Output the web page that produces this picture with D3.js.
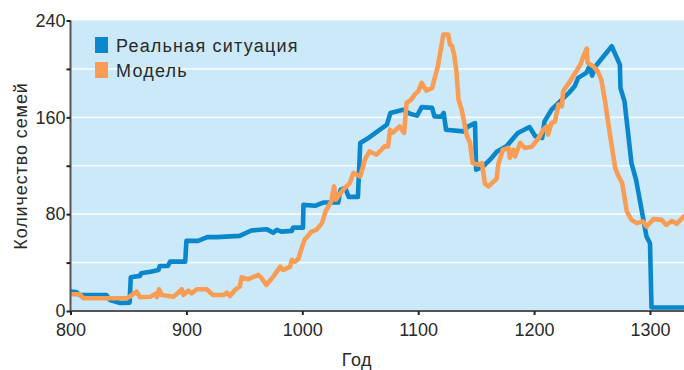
<!DOCTYPE html>
<html>
<head>
<meta charset="utf-8">
<script src="https://cdn.jsdelivr.net/npm/d3@7"></script>
<style>
  html, body { margin: 0; padding: 0; background: #fff; }
  svg { display: block; font-family: "Liberation Sans", Arial, sans-serif; }
</style>
</head>
<body>
<svg id="chart" width="684" height="370"></svg>
<script>
// Real observed number of families
const realYears = [800, 805, 808, 831, 834, 843, 851, 852, 860, 861, 869, 876, 877, 884, 886, 899, 900, 910, 918, 926, 946, 956, 969, 975, 978, 982, 991, 992, 1000.6, 1001, 1011, 1018, 1031, 1033, 1037, 1040, 1048, 1050, 1056, 1064, 1073, 1076, 1087, 1093, 1099, 1103, 1112, 1114, 1120, 1122, 1124, 1139, 1143, 1149, 1150, 1156, 1162, 1168, 1176, 1186, 1196, 1201, 1207, 1209, 1215, 1224, 1230, 1235, 1238, 1245, 1248, 1250, 1253, 1267, 1274, 1274.5, 1278, 1284, 1288, 1297, 1300, 1301.3, 1330];
const realValues = [16, 15.7, 13.2, 13.2, 9.1, 6.6, 6.9, 27.9, 29, 31.2, 32.5, 33.9, 37.2, 37.2, 40.8, 40.8, 57.9, 57.9, 61, 61, 62.1, 66.5, 67.6, 64.8, 67, 65.6, 66.2, 68.9, 68.9, 87.7, 86.9, 89.6, 89.6, 100.1, 101.8, 94.3, 94.3, 138.8, 142.3, 147.7, 153.9, 163.6, 166.3, 163, 161.4, 168.4, 167.8, 160.8, 160.6, 163.6, 149.8, 148.4, 152.3, 155.2, 116.7, 119.4, 125, 131.8, 136, 147.1, 152, 144.3, 142.9, 156.7, 166.3, 174.6, 180.2, 185.6, 192.6, 196.7, 202.5, 194.5, 202.2, 218.7, 203.6, 184.3, 173.2, 122.2, 108.4, 61.5, 56, 2.9, 2.9];

// Model output
const modelYears = [800, 808, 811, 848.5, 851, 857, 860, 869, 873, 874.6, 876.4, 878.7, 888.7, 893, 896, 897.3, 901.6, 904.6, 909, 917.5, 923, 932, 935, 937.6, 942, 946, 947.7, 953, 962, 965, 969, 975, 981, 983.6, 989.4, 991, 993.7, 996.5, 999.5, 1002, 1008, 1012, 1017, 1020, 1025, 1027.4, 1029, 1035, 1041, 1044, 1050, 1054, 1058, 1064, 1071, 1074, 1075.7, 1078, 1084, 1087.8, 1090, 1094, 1097, 1100, 1103, 1107, 1112, 1117, 1121.7, 1126, 1127.4, 1129, 1131, 1133, 1134.8, 1137.5, 1142, 1144.7, 1147, 1152, 1155, 1157.6, 1160.5, 1167.7, 1169, 1173, 1178, 1179, 1182, 1183.5, 1188, 1192, 1198, 1204, 1208, 1211, 1212, 1215, 1218, 1221, 1224, 1225, 1231, 1240, 1242, 1245.4, 1246.2, 1251, 1255, 1258, 1261, 1265.5, 1270, 1273, 1276, 1280, 1284, 1288.5, 1294, 1297, 1303, 1310, 1314, 1319, 1323, 1330];
const modelValues = [13.8, 13.8, 10.5, 10.5, 11.8, 16, 11.3, 11.8, 14.1, 11.6, 18, 13.2, 11.8, 15.1, 18, 13.2, 16.8, 14.6, 18, 18, 13.2, 13.2, 15.1, 12.4, 17.4, 20.1, 27.9, 26.2, 29.8, 27.1, 21.5, 28.4, 36.7, 33.9, 36.4, 42.2, 40.8, 42.8, 52.1, 58.8, 65.6, 67, 72.6, 82.2, 90.5, 102.9, 91.9, 100.1, 105.7, 114, 111.2, 125, 131.8, 129.1, 136, 136, 149.8, 147.3, 152.5, 147.1, 171.9, 174.6, 178.8, 181.5, 188.4, 182.1, 184.3, 202.2, 228.4, 228.4, 220.1, 219.3, 211.9, 197.8, 174.6, 166.3, 144.8, 139, 122.2, 120.8, 122.2, 105.1, 102.9, 109.2, 120.8, 133.2, 134.7, 126.6, 133.2, 127.7, 138.8, 134.7, 135.7, 142.9, 149.8, 152.5, 145.7, 155.3, 156.7, 170.5, 169.1, 181.5, 189.8, 203.6, 209.1, 216.8, 205, 202.2, 198, 191.2, 174.6, 145.7, 118.1, 111.1, 105.7, 82.2, 75.3, 72.6, 73.9, 69.8, 75.9, 75.3, 71.2, 74.5, 72, 79];

const xTicks = [800, 900, 1000, 1100, 1200, 1300];
const yTicks = [0, 40, 80, 120, 160, 200, 240];
const yLabelTicks = [0, 80, 160, 240];
const legendLabels = ["Реальная ситуация", "Модель"];
const seriesColors = ["#0a87ca", "#f99d55"];

const svg = d3.select("#chart");
const margin = { left: 70.5, top: 20.5, right: 0, bottom: 59 };
const W = 684, H = 370;
const plotW = W - margin.left - margin.right;
const plotH = H - margin.top - margin.bottom;
const textColor = "#2a2a2a";

// 800..1300 spans 580px; right edge lands near 1329
const x = d3.scaleLinear().domain([800, 1300]).range([margin.left, margin.left + 579.5]);
const y = d3.scaleLinear().domain([0, 240]).range([margin.top + plotH, margin.top]);

svg.append("rect")
  .attr("x", margin.left).attr("y", margin.top)
  .attr("width", plotW).attr("height", plotH)
  .attr("fill", "#cbe9f9");

// horizontal white grid
svg.append("g").selectAll("line")
  .data(yTicks.filter(d => d > 0 && d < 240))
  .join("line")
  .attr("x1", margin.left).attr("x2", W)
  .attr("y1", d => y(d)).attr("y2", d => y(d))
  .attr("stroke", "#f4fbff").attr("stroke-width", 1.6);

svg.append("defs").append("clipPath").attr("id", "plotClip")
  .append("rect")
  .attr("x", margin.left).attr("y", margin.top - 5)
  .attr("width", plotW).attr("height", plotH + 5);

const line = d3.line().x(d => x(d[0])).y(d => y(d[1]));
const realData = realYears.map((t, i) => [t, realValues[i]]);
const modelData = modelYears.map((t, i) => [t, modelValues[i]]);

const lines = svg.append("g").attr("clip-path", "url(#plotClip)");
lines.append("path").datum(realData)
  .attr("d", line).attr("fill", "none")
  .attr("stroke", seriesColors[0]).attr("stroke-width", 4.6)
  .attr("stroke-linejoin", "round").attr("stroke-linecap", "butt");
lines.append("path").datum(modelData)
  .attr("d", line).attr("fill", "none")
  .attr("stroke", seriesColors[1]).attr("stroke-width", 4.6)
  .attr("stroke-linejoin", "round").attr("stroke-linecap", "butt");

// axes
const xAxis = d3.axisBottom(x).tickValues(xTicks).tickSize(4).tickPadding(8).tickFormat(d3.format("d"));
const gx = svg.append("g").attr("transform", `translate(0,${margin.top + plotH})`).call(xAxis);
gx.select(".domain").attr("d", `M${margin.left},0H${W}`).attr("stroke", "#555").attr("stroke-width", 2);
gx.selectAll(".tick line").attr("stroke", "#222").attr("stroke-width", 2);
gx.selectAll(".tick text").attr("font-size", 18).attr("fill", textColor).attr("font-family", "Liberation Sans, Arial, sans-serif");

const yAxis = d3.axisLeft(y).tickValues(yTicks).tickSize(4).tickPadding(1)
  .tickFormat(d => yLabelTicks.includes(d) ? d : "");
const gy = svg.append("g").attr("transform", `translate(${margin.left},0)`).call(yAxis);
gy.select(".domain").attr("d", `M0,${margin.top}V${margin.top + plotH}`).attr("stroke", "#555").attr("stroke-width", 2);
gy.selectAll(".tick line").attr("stroke", "#222").attr("stroke-width", 2);
gy.selectAll(".tick text").attr("font-size", 18).attr("fill", textColor).attr("font-family", "Liberation Sans, Arial, sans-serif");

// axis titles
svg.append("text")
  .attr("x", 357).attr("y", 366)
  .attr("text-anchor", "middle").attr("font-size", 18).attr("fill", textColor)
  .attr("letter-spacing", 0.6)
  .text("Год");
svg.append("text")
  .attr("transform", "translate(27,166) rotate(-90)")
  .attr("text-anchor", "middle").attr("font-size", 18).attr("fill", textColor)
  .attr("letter-spacing", 0.9)
  .text("Количество семей");

// legend
const legend = svg.append("g");
legendLabels.forEach((lab, i) => {
  legend.append("rect")
    .attr("x", 95).attr("y", 37 + i * 25)
    .attr("width", 13).attr("height", 16)
    .attr("fill", seriesColors[i]);
  legend.append("text")
    .attr("x", 116).attr("y", 52 + i * 25)
    .attr("font-size", 18).attr("fill", textColor)
    .attr("letter-spacing", 1.2)
    .text(lab);
});
</script>
</body>
</html>
